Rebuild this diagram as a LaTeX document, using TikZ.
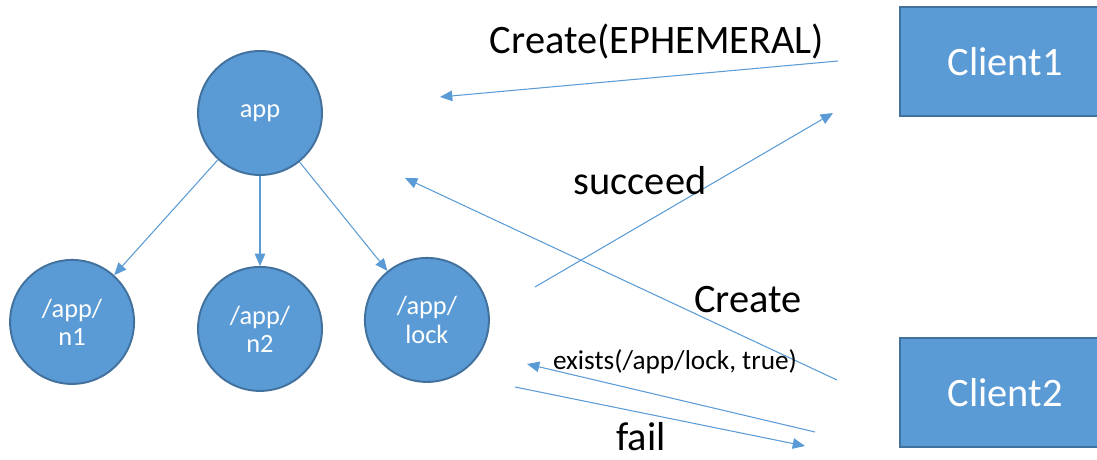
\documentclass[tikz,border=0pt]{standalone}
\usepackage{fontspec}
\setmainfont{Carlito}
\usepackage{xcolor}
\usepackage{tikz}
\usetikzlibrary{arrows.meta,positioning}
\definecolor{zkblue}{HTML}{5B9BD5}
\definecolor{zkedge}{HTML}{41719C}

\begin{document}
\begin{tikzpicture}[node distance=1.8cm]
\tikzset{znode/.style={circle, draw=zkedge, line width=1.1pt, fill=zkblue, text=white, minimum size=2.48cm, inner sep=0pt, align=center, font=\fontsize{15}{16}\selectfont},
  client/.style={draw=zkedge, line width=1.1pt, fill=zkblue, text=white, minimum width=4.2cm, minimum height=2.18cm, font=\fontsize{23}{26}\selectfont},
  msg/.style={draw=zkblue, line width=0.6pt, -{Triangle[length=7pt, width=6pt]}},
  lbl/.style={font=\fontsize{23}{26}\selectfont, inner sep=1pt}}
\useasboundingbox (0,0) rectangle (21.94,9.18);
\clip (0,0) rectangle (21.94,9.18);
% znode tree
\node[znode] (app) at (5.2,6.92) {app};
\node[znode, below=1.8cm of app] (n2) {/app/\\n2};
\node[znode, left=1.24cm of n2, yshift=0.14cm] (n1) {/app/\\n1};
\node[znode, right=0.82cm of n2, yshift=0.18cm] (lock) {/app/\\lock};
\draw[msg] (app) -- (n1);
\draw[msg] (app) -- (n2);
\draw[msg] (app) -- (lock);
% clients
\node[client] (client1) at (20.1,7.95) {Client1};
\node[client] (client2) at (20.1,1.33) {Client2};
% message ends
\coordinate (c1req) at (16.76,7.96);
\coordinate (c1reqend) at (8.8,7.24);
\coordinate (c1ack) at (10.7,3.44);
\coordinate (c1ackend) at (16.66,6.92);
\coordinate (c2req) at (16.74,1.58);
\coordinate (c2reqend) at (8.1,5.62);
\coordinate (c2watch) at (16.3,0.54);
\coordinate (c2watchend) at (10.54,1.9);
\coordinate (c2fail) at (10.3,1.44);
\coordinate (c2failend) at (16.1,0.26);
\draw[msg] (c1req) -- (c1reqend);
\draw[msg] (c1ack) -- (c1ackend);
\draw[msg] (c2req) -- (c2reqend);
\draw[msg] (c2watch) -- (c2watchend);
\draw[msg] (c2fail) -- (c2failend);
% labels
\node[lbl] (createeph) at (13.14,8.34) {Create(EPHEMERAL)};
\node[lbl] (succeed) at (12.8,5.56) {succeed};
\node[lbl] (create) at (14.96,3.18) {Create};
\node[font=\fontsize{15.5}{18}\selectfont] (exists) at (13.5,1.94) {exists(/app/lock, true)};
\node[lbl, inner sep=0pt] (fail) at (12.82,0.44) {fail};
\end{tikzpicture}
\end{document}
